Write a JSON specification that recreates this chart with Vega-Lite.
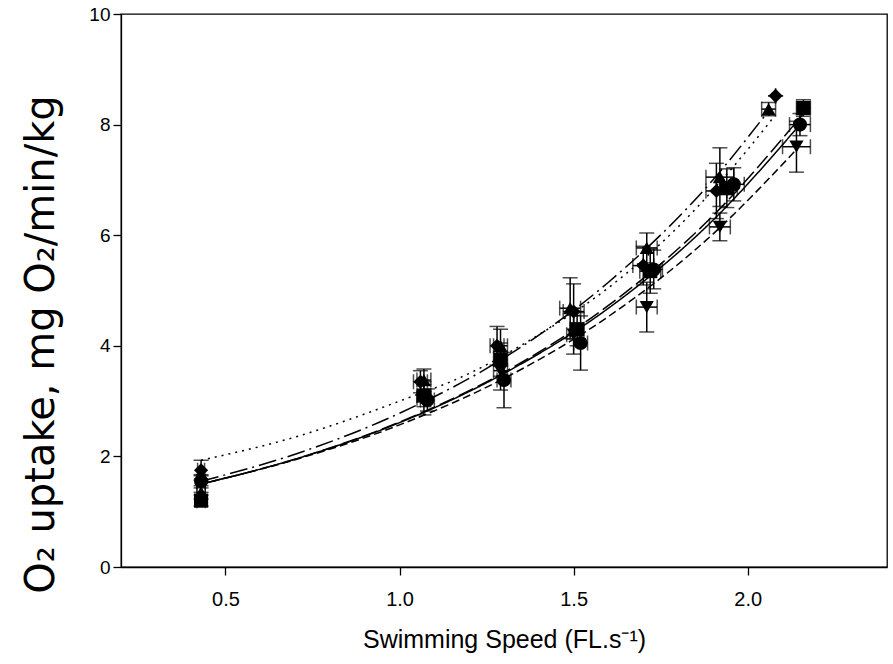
{
  "$schema": "https://vega.github.io/schema/vega-lite/v6.json",
  "width": 766,
  "height": 553,
  "autosize": "none",
  "padding": {"left": 121, "top": 14, "right": 6, "bottom": 97},
  "background": "white",
  "config": {
    "view": {"stroke": "black", "strokeWidth": 1.3},
    "axis": {"grid": false, "domainColor": "black", "tickColor": "black", "labelColor": "black", "titleColor": "black", "labelFont": "Liberation Sans", "titleFont": "Liberation Sans", "titleFontWeight": "normal", "tickSize": 8, "domainWidth": 1.3, "tickWidth": 1.3}
  },
  "datasets": {
    "pts": [
      {"s": "A", "x": 0.43, "y": 1.55, "xlo": 0.418, "xhi": 0.442, "ylo": 1.43, "yhi": 1.67},
      {"s": "A", "x": 1.08, "y": 3.02, "xlo": 1.06, "xhi": 1.10, "ylo": 2.82, "yhi": 3.22},
      {"s": "A", "x": 1.30, "y": 3.38, "xlo": 1.28, "xhi": 1.32, "ylo": 2.88, "yhi": 3.88},
      {"s": "A", "x": 1.52, "y": 4.05, "xlo": 1.50, "xhi": 1.54, "ylo": 3.56, "yhi": 4.54},
      {"s": "A", "x": 1.73, "y": 5.38, "xlo": 1.705, "xhi": 1.755, "ylo": 5.03, "yhi": 5.73},
      {"s": "A", "x": 1.96, "y": 6.92, "xlo": 1.93, "xhi": 1.99, "ylo": 6.62, "yhi": 7.22},
      {"s": "A", "x": 2.15, "y": 8.0, "xlo": 2.12, "xhi": 2.18, "ylo": 7.8, "yhi": 8.2},
      {"s": "B", "x": 0.43, "y": 1.5, "xlo": 0.418, "xhi": 0.442, "ylo": 1.35, "yhi": 1.65},
      {"s": "B", "x": 1.07, "y": 3.05, "xlo": 1.05, "xhi": 1.09, "ylo": 2.75, "yhi": 3.35},
      {"s": "B", "x": 1.29, "y": 3.55, "xlo": 1.27, "xhi": 1.31, "ylo": 3.2, "yhi": 3.9},
      {"s": "B", "x": 1.50, "y": 4.2, "xlo": 1.48, "xhi": 1.52, "ylo": 3.85, "yhi": 4.55},
      {"s": "B", "x": 1.71, "y": 4.7, "xlo": 1.68, "xhi": 1.74, "ylo": 4.25, "yhi": 5.15},
      {"s": "B", "x": 1.92, "y": 6.15, "xlo": 1.89, "xhi": 1.95, "ylo": 5.9, "yhi": 6.4},
      {"s": "B", "x": 2.14, "y": 7.6, "xlo": 2.10, "xhi": 2.18, "ylo": 7.14, "yhi": 8.06},
      {"s": "C", "x": 0.43, "y": 1.2, "xlo": 0.418, "xhi": 0.442, "ylo": 1.1, "yhi": 1.3},
      {"s": "C", "x": 1.07, "y": 3.1, "xlo": 1.05, "xhi": 1.09, "ylo": 2.9, "yhi": 3.3},
      {"s": "C", "x": 1.29, "y": 3.75, "xlo": 1.27, "xhi": 1.31, "ylo": 3.45, "yhi": 4.05},
      {"s": "C", "x": 1.51, "y": 4.3, "xlo": 1.49, "xhi": 1.53, "ylo": 4.0, "yhi": 4.6},
      {"s": "C", "x": 1.72, "y": 5.35, "xlo": 1.69, "xhi": 1.75, "ylo": 4.95, "yhi": 5.75},
      {"s": "C", "x": 1.94, "y": 6.85, "xlo": 1.91, "xhi": 1.97, "ylo": 6.5, "yhi": 7.2},
      {"s": "C", "x": 2.16, "y": 8.3, "xlo": 2.14, "xhi": 2.18, "ylo": 8.15, "yhi": 8.45},
      {"s": "D", "x": 0.43, "y": 1.75, "xlo": 0.42, "xhi": 0.44, "ylo": 1.57, "yhi": 1.93},
      {"s": "D", "x": 1.06, "y": 3.35, "xlo": 1.04, "xhi": 1.08, "ylo": 3.15, "yhi": 3.55},
      {"s": "D", "x": 1.28, "y": 4.0, "xlo": 1.26, "xhi": 1.30, "ylo": 3.65, "yhi": 4.35},
      {"s": "D", "x": 1.50, "y": 4.62, "xlo": 1.47, "xhi": 1.53, "ylo": 4.12, "yhi": 5.12},
      {"s": "D", "x": 1.70, "y": 5.45, "xlo": 1.67, "xhi": 1.73, "ylo": 5.1, "yhi": 5.8},
      {"s": "D", "x": 1.91, "y": 6.8, "xlo": 1.88, "xhi": 1.94, "ylo": 6.3, "yhi": 7.3},
      {"s": "D", "x": 2.08, "y": 8.52, "xlo": 2.08, "xhi": 2.08, "ylo": 8.52, "yhi": 8.52},
      {"s": "E", "x": 0.43, "y": 1.35, "xlo": 0.418, "xhi": 0.442, "ylo": 1.23, "yhi": 1.47},
      {"s": "E", "x": 1.07, "y": 3.38, "xlo": 1.05, "xhi": 1.09, "ylo": 3.18, "yhi": 3.58},
      {"s": "E", "x": 1.29, "y": 4.0, "xlo": 1.27, "xhi": 1.31, "ylo": 3.7, "yhi": 4.3},
      {"s": "E", "x": 1.49, "y": 4.68, "xlo": 1.46, "xhi": 1.52, "ylo": 4.13, "yhi": 5.23},
      {"s": "E", "x": 1.71, "y": 5.77, "xlo": 1.68, "xhi": 1.74, "ylo": 5.5, "yhi": 6.04},
      {"s": "E", "x": 1.92, "y": 7.05, "xlo": 1.88, "xhi": 1.96, "ylo": 6.52, "yhi": 7.58},
      {"s": "E", "x": 2.06, "y": 8.28, "xlo": 2.04, "xhi": 2.08, "ylo": 8.16, "yhi": 8.4}
    ],
    "fit": [
      {"s": "A", "x": 0.43, "y": 1.50}, {"s": "A", "x": 0.7, "y": 1.95}, {"s": "A", "x": 1.0, "y": 2.61}, {"s": "A", "x": 1.3, "y": 3.50}, {"s": "A", "x": 1.6, "y": 4.68}, {"s": "A", "x": 1.9, "y": 6.27}, {"s": "A", "x": 2.15, "y": 8.00},
      {"s": "B", "x": 0.43, "y": 1.50}, {"s": "B", "x": 0.7, "y": 1.94}, {"s": "B", "x": 1.0, "y": 2.57}, {"s": "B", "x": 1.3, "y": 3.41}, {"s": "B", "x": 1.6, "y": 4.53}, {"s": "B", "x": 1.9, "y": 6.02}, {"s": "B", "x": 2.14, "y": 7.55},
      {"s": "C", "x": 0.43, "y": 1.50}, {"s": "C", "x": 0.7, "y": 1.95}, {"s": "C", "x": 1.0, "y": 2.62}, {"s": "C", "x": 1.3, "y": 3.52}, {"s": "C", "x": 1.6, "y": 4.73}, {"s": "C", "x": 1.9, "y": 6.35}, {"s": "C", "x": 2.16, "y": 8.20},
      {"s": "D", "x": 0.43, "y": 1.93}, {"s": "D", "x": 0.7, "y": 2.35}, {"s": "D", "x": 1.0, "y": 3.0}, {"s": "D", "x": 1.2, "y": 3.5}, {"s": "D", "x": 1.4, "y": 4.2}, {"s": "D", "x": 1.6, "y": 5.05}, {"s": "D", "x": 1.8, "y": 6.15}, {"s": "D", "x": 2.0, "y": 7.55}, {"s": "D", "x": 2.07, "y": 8.1},
      {"s": "E", "x": 0.43, "y": 1.55}, {"s": "E", "x": 0.7, "y": 2.04}, {"s": "E", "x": 1.0, "y": 2.78}, {"s": "E", "x": 1.3, "y": 3.78}, {"s": "E", "x": 1.6, "y": 5.15}, {"s": "E", "x": 1.9, "y": 7.00}, {"s": "E", "x": 2.06, "y": 8.25}
    ]
  },
  "layer": [
    {
      "data": {"name": "fit"},
      "mark": {"type": "line", "color": "black", "strokeWidth": 1.5, "interpolate": "monotone"},
      "encoding": {
        "x": {"field": "x", "type": "quantitative", "scale": {"domain": [0.2, 2.4], "nice": false},
          "axis": {"values": [0.5, 1.0, 1.5, 2.0], "format": ".1f", "labelFontSize": 20, "labelPadding": 14, "title": "Swimming Speed (FL.s⁻¹)", "titleFontSize": 25, "titlePadding": 18}},
        "y": {"field": "y", "type": "quantitative", "scale": {"domain": [0, 10], "nice": false},
          "axis": {"values": [0, 2, 4, 6, 8, 10], "labelFontSize": 19, "labelPadding": 3, "title": "O₂ uptake, mg O₂/min/kg", "titleFont": "DejaVu Sans", "titleFontSize": 40, "titleX": -80, "titleY": 330, "titleAngle": 270, "titleBaseline": "middle", "titleAlign": "center"}},
        "detail": {"field": "s"},
        "strokeDash": {"field": "s", "type": "nominal", "legend": null,
          "scale": {"domain": ["A", "B", "C", "D", "E"], "range": [[1, 0], [8, 4], [16, 5], [2, 5], [18, 5, 2, 5]]}}
      }
    },
    {
      "data": {"name": "pts"},
      "mark": {"type": "rule", "color": "black", "strokeWidth": 1.5},
      "encoding": {"x": {"field": "x", "type": "quantitative"}, "y": {"field": "ylo", "type": "quantitative"}, "y2": {"field": "yhi"}}
    },
    {
      "data": {"name": "pts"},
      "mark": {"type": "rule", "color": "black", "strokeWidth": 1.5},
      "encoding": {"y": {"field": "y", "type": "quantitative"}, "x": {"field": "xlo", "type": "quantitative"}, "x2": {"field": "xhi"}}
    },
    {
      "data": {"name": "pts"},
      "mark": {"type": "tick", "orient": "horizontal", "color": "black", "size": 15, "thickness": 1.5},
      "encoding": {"x": {"field": "x", "type": "quantitative"}, "y": {"field": "ylo", "type": "quantitative"}}
    },
    {
      "data": {"name": "pts"},
      "mark": {"type": "tick", "orient": "horizontal", "color": "black", "size": 15, "thickness": 1.5},
      "encoding": {"x": {"field": "x", "type": "quantitative"}, "y": {"field": "yhi", "type": "quantitative"}}
    },
    {
      "data": {"name": "pts"},
      "mark": {"type": "tick", "orient": "vertical", "color": "black", "size": 15, "thickness": 1.5},
      "encoding": {"x": {"field": "xlo", "type": "quantitative"}, "y": {"field": "y", "type": "quantitative"}}
    },
    {
      "data": {"name": "pts"},
      "mark": {"type": "tick", "orient": "vertical", "color": "black", "size": 15, "thickness": 1.5},
      "encoding": {"x": {"field": "xhi", "type": "quantitative"}, "y": {"field": "y", "type": "quantitative"}}
    },
    {
      "data": {"name": "pts"},
      "mark": {"type": "point", "filled": true, "color": "black", "opacity": 1, "size": 200},
      "encoding": {
        "x": {"field": "x", "type": "quantitative"},
        "y": {"field": "y", "type": "quantitative"},
        "shape": {"field": "s", "type": "nominal", "legend": null,
          "scale": {"domain": ["A", "B", "C", "D", "E"], "range": ["circle", "triangle-down", "square", "diamond", "triangle-up"]}}
      }
    }
  ]
}
